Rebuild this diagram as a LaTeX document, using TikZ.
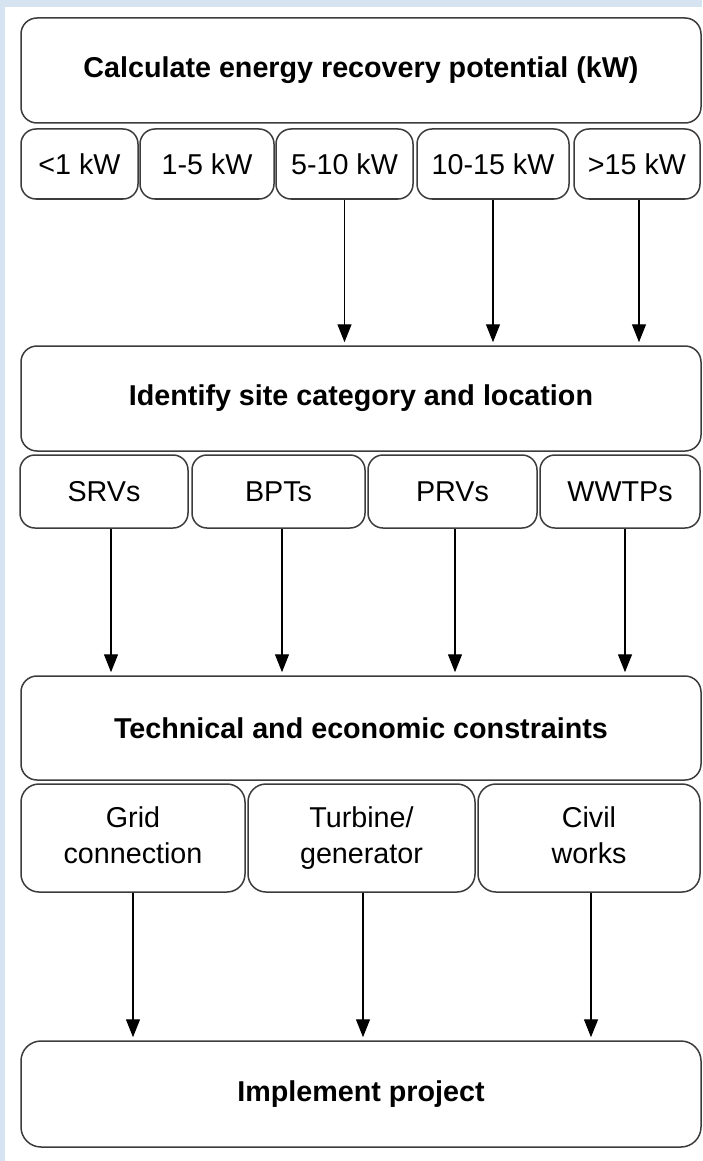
\documentclass[tikz,border=0pt]{standalone}
\usepackage{fontspec}
\setmainfont{Liberation Sans}
\usetikzlibrary{arrows.meta}
\definecolor{bgblue}{RGB}{214,227,240}
\definecolor{edge}{RGB}{60,60,60}
\begin{document}
\begin{tikzpicture}[x=1pt,y=-1pt,
  mainbox/.style={draw=edge,line width=1.5pt,rounded corners=16pt,fill=white,inner sep=0pt,
    font=\fontsize{28.7}{36}\selectfont\bfseries,align=center},
  subbox/.style={draw=edge,line width=1.5pt,rounded corners=15pt,fill=white,inner sep=0pt,
    font=\fontsize{28.7}{36}\selectfont,align=center},
  arr/.style={draw=black,line width=1.4pt,-{Triangle[length=18pt,width=14pt]},shorten >=3pt}]
\useasboundingbox (0,0) rectangle (702,1161);
\fill[bgblue] (0,0) rectangle (702,1161);
\fill[white] (5,7) rectangle (702,1161);
% level 1
\node[mainbox,minimum width=680,minimum height=105] (calc) at (361,70.5) {Calculate energy recovery potential (kW)};
\node[subbox,minimum width=117,minimum height=70] (kwa) at (79.5,164) {<1 kW};
\node[subbox,minimum width=134,minimum height=70] (kwb) at (207,164) {1-5 kW};
\node[subbox,minimum width=137,minimum height=70] (kwc) at (344.5,164) {5-10 kW};
\node[subbox,minimum width=152,minimum height=70] (kwd) at (493,164) {10-15 kW};
\node[subbox,minimum width=126,minimum height=70] (kwe) at (637,164) {>15 kW};
% level 2
\node[mainbox,minimum width=680,minimum height=105] (site) at (361,398.5) {Identify site category and location};
\node[subbox,minimum width=168,minimum height=73] (srv) at (104,491.5) {SRVs};
\node[subbox,minimum width=173,minimum height=73] (bpt) at (278.5,491.5) {BPTs};
\node[subbox,minimum width=169,minimum height=73] (prv) at (452.5,491.5) {PRVs};
\node[subbox,minimum width=160,minimum height=73] (wwtp) at (620,491.5) {WWTPs};
% level 3
\node[mainbox,minimum width=680,minimum height=104] (tech) at (361,728) {Technical and economic constraints};
\node[subbox,minimum width=224,minimum height=108,rounded corners=18pt] (grid) at (133,838) {Grid\strut\\connection\strut};
\node[subbox,minimum width=227,minimum height=108,rounded corners=18pt] (turb) at (361.5,838) {Turbine/\strut\\generator\strut};
\node[subbox,minimum width=222,minimum height=108,rounded corners=18pt] (civil) at (589,838) {Civil\strut\\works\strut};
% level 4
\node[mainbox,minimum width=680,minimum height=106,rounded corners=20pt] (impl) at (361,1094) {Implement project};
% arrows
\draw[arr] (kwc.south) -- (kwc.south |- site.north);
\draw[arr] (kwd.south) -- (kwd.south |- site.north);
\draw[arr] ([xshift=2]kwe.south) -- ([xshift=2]kwe.south |- site.north);
\draw[arr] ([xshift=7]srv.south) -- ([xshift=7]srv.south |- tech.north);
\draw[arr] ([xshift=3.5]bpt.south) -- ([xshift=3.5]bpt.south |- tech.north);
\draw[arr] ([xshift=2.5]prv.south) -- ([xshift=2.5]prv.south |- tech.north);
\draw[arr] ([xshift=5]wwtp.south) -- ([xshift=5]wwtp.south |- tech.north);
\draw[arr] (grid.south) -- (grid.south |- impl.north);
\draw[arr] ([xshift=1.5]turb.south) -- ([xshift=1.5]turb.south |- impl.north);
\draw[arr] ([xshift=2]civil.south) -- ([xshift=2]civil.south |- impl.north);
\end{tikzpicture}
\end{document}
